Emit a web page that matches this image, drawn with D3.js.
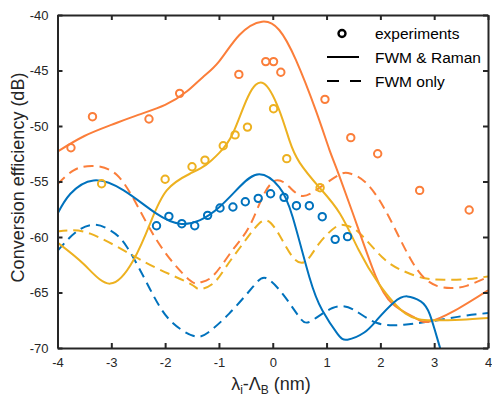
<!DOCTYPE html>
<html>
<head>
<meta charset="utf-8">
<script src="https://cdn.jsdelivr.net/npm/d3@7"></script>
<style>
  body { margin: 0; background: #fff; }
  svg { font-family: "Liberation Sans", Arial, Helvetica, sans-serif; }
</style>
</head>
<body>
<svg id="chart" width="492" height="398"></svg>
<script>
// wavelength offset (nm) vs conversion efficiency (dB)
const xTicks = [-4, -3, -2, -1, 0, 1, 2, 3, 4]
const yTicks = [-70, -65, -60, -55, -50, -45, -40]

// FWM & Raman (solid)
const orangeSolid = [[-4, -52.3], [-3.5, -50.9], [-3, -49.9], [-2.5, -49.0], [-2, -48.1], [-1.6, -46.9], [-1.3, -45.6], [-1.0, -44.2], [-0.62, -41.8], [-0.2, -40.6], [0.12, -41.35], [0.43, -44.05], [0.8, -48.6], [1.05, -52.1], [1.23, -54.4], [1.6, -59.4], [1.91, -63.5], [2.22, -66.0], [2.65, -67.3], [2.9, -67.63], [3.39, -66.6], [4, -64.8]]
const yellowSolid = [[-4, -60.5], [-3.5, -62.5], [-3.02, -64.2], [-2.59, -62.1], [-2.28, -58.8], [-1.97, -55.8], [-1.54, -54.3], [-1.24, -53.5], [-0.99, -52.4], [-0.74, -50.65], [-0.46, -47.36], [-0.17, -46.15], [0.12, -48.56], [0.31, -51.3], [0.5, -53.3], [0.86, -55.5], [1.25, -57.9], [1.6, -61.2], [1.97, -64.2], [2.47, -66.9], [2.96, -67.5], [3.5, -67.45], [4, -67.3]]
const blueSolid = [[-4, -57.9], [-3.76, -56.1], [-3.33, -54.9], [-2.77, -55.8], [-2.16, -57.9], [-1.73, -58.8], [-1.36, -58.5], [-0.99, -57.3], [-0.62, -55.5], [-0.25, -54.35], [0.12, -55.5], [0.37, -58.2], [0.68, -63.6], [0.92, -66.6], [1.2, -68.7], [1.39, -69.25], [1.7, -68.6], [1.94, -67.45], [2.25, -65.9], [2.5, -65.35], [2.75, -65.8], [2.92, -67.0], [3.11, -70], [3.25, -72]]

// FWM only (dashed)
const orangeDash = [[-4, -55.25], [-3.7, -54.0], [-3.36, -53.6], [-2.9, -54.4], [-2.47, -57.6], [-2.03, -61.2], [-1.54, -63.9], [-1.35, -64.1], [-1.11, -63.5], [-0.75, -61.2], [-0.44, -59.1], [-0.19, -56.4], [0.06, -54.9], [0.31, -55.5], [0.55, -56.3], [0.86, -55.6], [1.23, -54.4], [1.45, -54.3], [1.75, -55.2], [2.16, -58.2], [2.65, -62.7], [3.05, -64.4], [3.33, -64.6], [3.6, -64.4], [4, -63.6]]
const yellowDash = [[-4, -59.5], [-3.76, -59.4], [-3.39, -59.7], [-2.77, -61.2], [-2.16, -62.8], [-1.54, -64.2], [-1.36, -64.7], [-1.11, -64.2], [-0.87, -62.7], [-0.6, -60.9], [-0.35, -59.3], [-0.12, -58.5], [0.12, -59.8], [0.37, -61.8], [0.61, -62.2], [0.86, -60.6], [1.17, -59.1], [1.35, -58.95], [1.6, -59.6], [2.03, -61.8], [2.4, -63.0], [2.8, -63.7], [3.18, -63.85], [3.6, -63.8], [4, -63.55]]
const blueDash = [[-4, -61.25], [-3.64, -59.5], [-3.3, -58.9], [-3.02, -59.4], [-2.71, -60.9], [-2.28, -64.7], [-1.91, -67.5], [-1.48, -68.9], [-1.2, -68.6], [-0.81, -66.9], [-0.37, -64.5], [-0.13, -63.7], [0.18, -65.1], [0.49, -67.2], [0.7, -67.6], [1.11, -66.4], [1.5, -66.55], [1.94, -67.75], [2.44, -67.9], [2.93, -67.6], [3.49, -67.15], [4, -66.85]]

// experiments (circles)
const orangeExp = [[-3.75, -51.96], [-3.35, -49.16], [-2.3, -49.37], [-1.73, -47.06], [-0.63, -45.35], [-0.13, -44.2], [0.015, -44.2], [0.15, -45.16], [0.97, -47.6], [1.45, -51.05], [1.95, -52.5], [2.73, -55.8], [3.65, -57.57]]
const yellowExp = [[-3.18, -55.2], [-2.0, -54.8], [-1.5, -53.67], [-1.26, -53.07], [-0.92, -51.78], [-0.7, -50.8], [-0.47, -50.1], [0.015, -48.44], [0.26, -52.94], [0.88, -55.56]]
const blueExp = [[-2.16, -58.99], [-1.93, -58.14], [-1.69, -58.8], [-1.45, -58.99], [-1.21, -58.05], [-0.98, -57.39], [-0.74, -57.3], [-0.51, -56.82], [-0.27, -56.52], [-0.04, -56.1], [0.21, -56.43], [0.44, -57.18], [0.68, -57.18], [0.92, -58.17], [1.16, -60.21], [1.39, -59.97]]

const ORANGE = '#FB7E3A'
const YELLOW = '#EDB120'
const BLUE = '#0072BD'
const AXIS = '#262626'

const X0 = 57.5, X1 = 488, Y0 = 15, Y1 = 348

const x = d3.scaleLinear().domain([-4, 4]).range([X0, X1])
const y = d3.scaleLinear().domain([-70, -40]).range([Y1, Y0])

const svg = d3.select('#chart')

svg.append('defs').append('clipPath')
  .attr('id', 'plot-clip')
  .append('rect')
  .attr('x', X0).attr('y', Y0)
  .attr('width', X1 - X0).attr('height', Y1 - Y0)

const line = d3.line()
  .x(d => x(d[0]))
  .y(d => y(d[1]))
  .curve(d3.curveNatural)

const plot = svg.append('g').attr('clip-path', 'url(#plot-clip)')

const curves = [
  { data: blueDash, color: BLUE, dash: '10,6' },
  { data: yellowDash, color: YELLOW, dash: '10,6' },
  { data: orangeDash, color: ORANGE, dash: '10,6' },
  { data: orangeSolid, color: ORANGE, dash: null },
  { data: yellowSolid, color: YELLOW, dash: null },
  { data: blueSolid, color: BLUE, dash: null }
]
curves.forEach(c => {
  plot.append('path')
    .datum(c.data)
    .attr('fill', 'none')
    .attr('stroke', c.color)
    .attr('stroke-width', 2)
    .attr('stroke-dasharray', c.dash)
    .attr('d', line)
})

const markers = [
  { data: orangeExp, color: ORANGE },
  { data: yellowExp, color: YELLOW },
  { data: blueExp, color: BLUE }
]
markers.forEach(m => {
  plot.append('g')
    .selectAll('circle')
    .data(m.data)
    .join('circle')
    .attr('cx', d => x(d[0]))
    .attr('cy', d => y(d[1]))
    .attr('r', 3.7)
    .attr('fill', 'none')
    .attr('stroke', m.color)
    .attr('stroke-width', 2)
})

// axes, box style with inward ticks
const TICK = 5
const axBottom = svg.append('g')
  .attr('transform', `translate(0,${Y1})`)
  .call(d3.axisBottom(x).tickValues(xTicks).tickSizeInner(-TICK).tickSizeOuter(0).tickPadding(10))
const axTop = svg.append('g')
  .attr('transform', `translate(0,${Y0})`)
  .call(d3.axisTop(x).tickValues(xTicks).tickSizeInner(-TICK).tickSizeOuter(0).tickFormat(''))
const axLeft = svg.append('g')
  .attr('transform', `translate(${X0},0)`)
  .call(d3.axisLeft(y).tickValues(yTicks).tickSizeInner(-TICK).tickSizeOuter(0).tickPadding(9))
const axRight = svg.append('g')
  .attr('transform', `translate(${X1},0)`)
  .call(d3.axisRight(y).tickValues(yTicks).tickSizeInner(-TICK).tickSizeOuter(0).tickFormat(''))

;[axBottom, axTop, axLeft, axRight].forEach(g => {
  g.select('.domain').attr('stroke', AXIS).attr('stroke-width', 2)
  g.selectAll('.tick line').attr('stroke', AXIS).attr('stroke-width', 2)
  g.selectAll('.tick text')
    .attr('fill', AXIS)
    .style('font-size', '13px')
    .style('font-family', '"Liberation Sans", Arial, sans-serif')
    .text(function () { return d3.select(this).text().replace('−', '-') })
})

// axis labels
const xl = svg.append('text')
  .attr('x', 271)
  .attr('y', 390)
  .attr('text-anchor', 'middle')
  .attr('fill', AXIS)
  .style('font-size', '18px')
xl.append('tspan').text('λ')
xl.append('tspan').attr('dy', 4).style('font-size', '12px').text('i')
xl.append('tspan').attr('dy', -4).text('-Λ')
xl.append('tspan').attr('dy', 4).style('font-size', '12px').text('B')
xl.append('tspan').attr('dy', -4).text(' (nm)')

svg.append('text')
  .attr('transform', `translate(24,${(Y0 + Y1) / 2 - 4}) rotate(-90)`)
  .attr('text-anchor', 'middle')
  .attr('fill', AXIS)
  .style('font-size', '18px')
  .text('Conversion efficiency (dB)')

// legend
const legend = svg.append('g')
legend.append('circle')
  .attr('cx', 342).attr('cy', 33.5).attr('r', 3.5)
  .attr('fill', 'none').attr('stroke', '#000').attr('stroke-width', 2.4)
legend.append('line')
  .attr('x1', 327).attr('x2', 359).attr('y1', 57).attr('y2', 57)
  .attr('stroke', '#000').attr('stroke-width', 2)
legend.append('line')
  .attr('x1', 327).attr('x2', 361).attr('y1', 81).attr('y2', 81)
  .attr('stroke', '#000').attr('stroke-width', 2).attr('stroke-dasharray', '12,11')
const labels = ['experiments', 'FWM & Raman', 'FWM only']
legend.selectAll('text.lab')
  .data(labels)
  .join('text')
  .attr('class', 'lab')
  .attr('x', 375)
  .attr('y', (d, i) => 39 + i * 24)
  .attr('fill', '#000')
  .style('font-size', '15.5px')
  .text(d => d)
</script>
</body>
</html>
